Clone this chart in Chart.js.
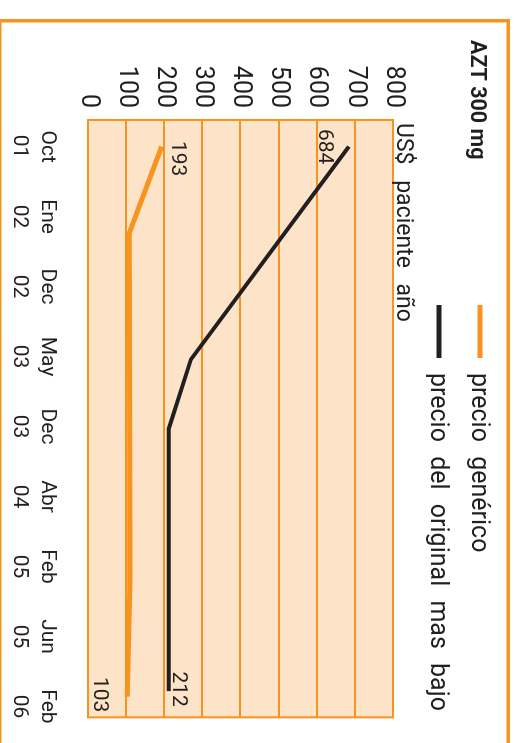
<!DOCTYPE html>
<html lang="es">
<head>
<meta charset="UTF-8">
<title>AZT 300 mg</title>
<script src="https://cdn.jsdelivr.net/npm/chart.js"></script>
<style>
  body { margin: 0; background: #fff; width: 517px; height: 743px; overflow: hidden; position: relative; }
  /* the chart is laid out landscape and turned a quarter clockwise */
  #wrap { position: absolute; left: 0; top: 0; width: 743px; height: 517px; transform-origin: 0 0; transform: translate(517px, 0) rotate(90deg); }
</style>
</head>
<body>
<div id="wrap"><canvas id="aztChart" width="743" height="517"></canvas></div>
<script>
// month axis, one label per step (0 = Oct 01)
const months = ["Oct 01", "Ene 02", "Dec 02", "May 03", "Dec 03", "Abr 04", "Feb 05", "Jun 05", "Feb 06"];
const priceTicks = [0, 100, 200, 300, 400, 500, 600, 700, 800];

// precio genérico
const genericAt = [0, 1.24, 6.19, 7.86];
const genericPrice = [193, 108, 110, 103];

// precio del original mas bajo
const originalAt = [0, 3.04, 4.03, 7.78];
const originalPrice = [684, 270, 212, 212];

const ORANGE = "#f7931e";
const PEACH = "#fde3c7";
const INK = "#231f20";

const toPoints = (xs, ys) => xs.map((x, i) => ({ x: x, y: ys[i] }));

// peach plot background, outer frame and plot outline
const framePlugin = {
  id: "frame",
  beforeDraw(chart) {
    const { ctx, chartArea: a } = chart;
    ctx.save();
    ctx.fillStyle = PEACH;
    ctx.fillRect(a.left, a.top, a.right - a.left, a.bottom - a.top);
    ctx.strokeStyle = ORANGE;
    ctx.lineWidth = 3.5;
    ctx.strokeRect(20.75, 8.75, 740, 508.5);
    ctx.restore();
  },
  beforeDatasetsDraw(chart) {
    const { ctx, chartArea: a } = chart;
    ctx.save();
    ctx.strokeStyle = ORANGE;
    ctx.lineWidth = 2;
    ctx.strokeRect(a.left, a.top, a.right - a.left, a.bottom - a.top);
    ctx.restore();
  }
};

// title, legend and unit label
const headPlugin = {
  id: "head",
  afterDraw(chart) {
    const ctx = chart.ctx;
    ctx.save();
    ctx.fillStyle = INK;
    ctx.textBaseline = "alphabetic";
    ctx.font = "bold 21.5px Roboto";
    ctx.fillText("AZT 300 mg", 40, 46);

    const baselines = [45, 86];
    chart.data.datasets.forEach((ds, i) => {
      const y = baselines[i];
      ctx.strokeStyle = ds.borderColor;
      ctx.lineWidth = 5;
      ctx.beginPath();
      ctx.moveTo(305, y - 8);
      ctx.lineTo(358, y - 8);
      ctx.stroke();
      ctx.font = "25px Roboto";
      ctx.wordSpacing = "8px";
      ctx.fillText(ds.label, 373, y);
    });

    ctx.font = "23px Roboto";
    ctx.wordSpacing = "10px";
    ctx.fillText("US$ paciente año", 123, 120);
    ctx.restore();
  }
};

// first and last value of each series, written next to the line
const valueLabels = {
  id: "valueLabels",
  afterDatasetsDraw(chart) {
    const ctx = chart.ctx;
    ctx.save();
    ctx.font = "21px Roboto";
    ctx.fillStyle = INK;
    ctx.textAlign = "center";
    ctx.textBaseline = "middle";
    chart.data.datasets.forEach((ds, i) => {
      const pts = chart.getDatasetMeta(i).data;
      const first = pts[0];
      const last = pts[pts.length - 1];
      const [o0, o1] = ds.labelOffsets;
      ctx.fillText(String(ds.data[0].y), first.x + o0[0], first.y + o0[1]);
      ctx.fillText(String(ds.data[ds.data.length - 1].y), last.x + o1[0], last.y + o1[1]);
    });
    ctx.restore();
  }
};

const ctx = document.getElementById("aztChart").getContext("2d");
new Chart(ctx, {
  type: "line",
  data: {
    datasets: [
      {
        label: "precio genérico",
        data: toPoints(genericAt, genericPrice),
        borderColor: ORANGE,
        borderWidth: 5,
        labelOffsets: [[12, -16], [-2, 28]]
      },
      {
        label: "precio del original mas bajo",
        data: toPoints(originalAt, originalPrice),
        borderColor: INK,
        borderWidth: 4,
        labelOffsets: [[0, 25], [-2, -9]]
      }
    ]
  },
  options: {
    responsive: false,
    animation: false,
    devicePixelRatio: 1,
    events: [],
    layout: { padding: { top: 124, right: 19, left: 0, bottom: 0 } },
    elements: {
      point: { radius: 0 },
      line: { tension: 0, fill: false, borderCapStyle: "butt" }
    },
    plugins: {
      legend: { display: false },
      title: { display: false },
      tooltip: { enabled: false }
    },
    scales: {
      x: {
        type: "linear",
        min: -0.38,
        max: 8.155,
        afterBuildTicks: (s) => { s.ticks = months.map((m, i) => ({ value: i })); },
        afterFit: (s) => { s.height = 88; },
        grid: { display: false },
        border: { display: false },
        ticks: {
          color: INK,
          padding: 19,
          maxRotation: 0,
          autoSkip: false,
          font: { family: "Roboto", size: 21, lineHeight: 1.33 },
          callback: (v) => months[v].split(" ")
        }
      },
      y: {
        min: 0,
        max: 800,
        afterBuildTicks: (s) => { s.ticks = priceTicks.map((v) => ({ value: v })); },
        afterFit: (s) => { s.width = 120; },
        grid: { color: ORANGE, lineWidth: 2, drawTicks: false },
        border: { color: ORANGE, width: 2 },
        ticks: {
          color: INK,
          padding: 12,
          font: { family: "Roboto", size: 25 }
        }
      }
    }
  },
  plugins: [framePlugin, headPlugin, valueLabels]
});
</script>
</body>
</html>
